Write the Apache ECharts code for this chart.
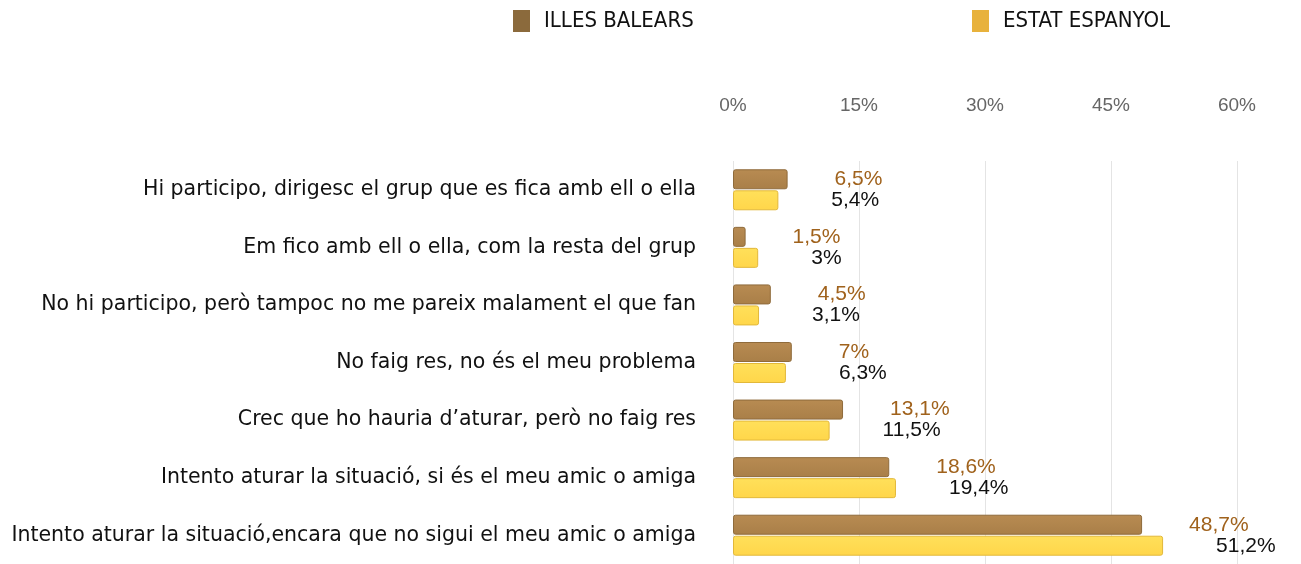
<!DOCTYPE html>
<html>
<head>
<meta charset="utf-8">
<script src="https://cdn.jsdelivr.net/npm/echarts@6/dist/echarts.min.js"></script>
<style>
  html, body { margin: 0; padding: 0; background: #fff; }
  #chart { width: 1301px; height: 564px; }
</style>
</head>
<body>
<div id="chart"></div>
<script>
// categories, top to bottom
const categories = [
  'Hi participo, dirigesc el grup que es fica amb ell o ella',
  'Em fico amb ell o ella, com la resta del grup',
  'No hi participo, però tampoc no me pareix malament el que fan',
  'No faig res, no és el meu problema',
  'Crec que ho hauria d’aturar, però no faig res',
  'Intento aturar la situació, si és el meu amic o amiga',
  'Intento aturar la situació,encara que no sigui el meu amic o amiga'
]
const illesBalears = [6.5, 1.5, 4.5, 7, 13.1, 18.6, 48.7]
const estatEspanyol = [5.4, 3, 3.1, 6.3, 11.5, 19.4, 51.2]
const seriesNames = ['ILLES BALEARS', 'ESTAT ESPANYOL']

const fmt = v => String(v).replace('.', ',') + '%'

const chart = echarts.init(document.getElementById('chart'))

chart.setOption({
  animation: false,
  legend: [
    {
      left: 508, top: 5,
      icon: 'rect', itemWidth: 17, itemHeight: 22, itemGap: 14,
      textStyle: { fontFamily: 'DejaVu Sans Condensed', fontSize: 22, color: '#111', padding: [0, 0, 0, 9] },
      data: [{ name: seriesNames[0], itemStyle: { color: '#8b6a3c', borderWidth: 0 } }]
    },
    {
      left: 967, top: 5,
      icon: 'rect', itemWidth: 17, itemHeight: 22, itemGap: 14,
      textStyle: { fontFamily: 'DejaVu Sans Condensed', fontSize: 22, color: '#111', padding: [0, 0, 0, 9] },
      data: [{ name: seriesNames[1], itemStyle: { color: '#e8b23c', borderWidth: 0 } }]
    }
  ],
  grid: { left: 733, right: 64, top: 161, height: 412 },
  xAxis: {
    type: 'value',
    position: 'top',
    min: 0, max: 60, interval: 15,
    axisLine: { show: false },
    axisTick: { show: false },
    axisLabel: {
      margin: 46,
      formatter: '{value}%',
      color: '#666',
      fontFamily: 'Liberation Sans',
      fontSize: 19
    },
    splitLine: { lineStyle: { color: '#e4e4e4', width: 1 } }
  },
  yAxis: {
    type: 'category',
    inverse: true,
    data: categories,
    axisLine: { show: false },
    axisTick: { show: false },
    axisLabel: {
      margin: 37,
      color: '#111',
      fontFamily: 'DejaVu Sans',
      fontSize: 20.5
    }
  },
  series: [
    {
      name: seriesNames[0],
      type: 'bar',
      data: illesBalears,
      barWidth: 20,
      barGap: '5%',
      itemStyle: {
        color: new echarts.graphic.LinearGradient(0, 0, 0, 1, [
          { offset: 0, color: '#b88b52' },
          { offset: 1, color: '#a97f48' }
        ]),
        borderColor: '#8f6b3b',
        borderWidth: 1,
        borderRadius: 2
      },
      label: {
        show: true,
        position: 'right',
        distance: 47,
        formatter: p => fmt(p.value),
        color: '#a0621c',
        fontFamily: 'Liberation Sans',
        fontSize: 21
      }
    },
    {
      name: seriesNames[1],
      type: 'bar',
      data: estatEspanyol,
      barWidth: 20,
      itemStyle: {
        color: new echarts.graphic.LinearGradient(0, 0, 0, 1, [
          { offset: 0, color: '#ffe05a' },
          { offset: 1, color: '#ffd64a' }
        ]),
        borderColor: '#e2b83a',
        borderWidth: 1,
        borderRadius: 2
      },
      label: {
        show: true,
        position: 'right',
        distance: 53,
        formatter: p => fmt(p.value),
        color: '#111',
        fontFamily: 'Liberation Sans',
        fontSize: 21
      }
    }
  ]
})
</script>
</body>
</html>
